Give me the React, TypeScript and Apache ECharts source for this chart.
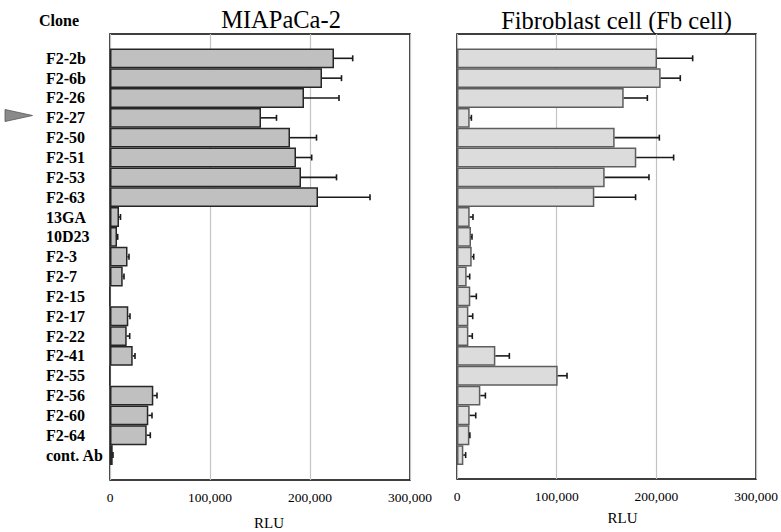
import React, { useEffect, useRef } from "react";
import * as echarts from "echarts";

const categories = [
  "F2-2b", "F2-6b", "F2-26", "F2-27", "F2-50", "F2-51", "F2-53", "F2-63",
  "13GA", "10D23", "F2-3", "F2-7", "F2-15", "F2-17", "F2-22", "F2-41",
  "F2-55", "F2-56", "F2-60", "F2-64", "cont. Ab",
];

const miaValues = [
  224000, 212000, 194000, 151000, 180000, 186000, 191000, 208000,
  9000, 7000, 17500, 12700, 0, 18300, 16700, 22700,
  0, 43300, 38300, 36700, 2700,
];
const miaErrors = [
  18700, 19500, 35000, 15500, 26500, 15700, 35500, 52000,
  1500, 700, 1500, 1300, 0, 1700, 3000, 2300,
  0, 3700, 3700, 3600, 300,
];

const fbValues = [
  198700, 202300, 165600, 12600, 156600, 178100, 146700, 136400,
  12600, 13900, 14600, 9600, 13200, 11300, 11300, 38100,
  100000, 23200, 12600, 12300, 6300,
];
const fbErrors = [
  35400, 19500, 23500, 1700, 44400, 37100, 44000, 41000,
  3300, 1000, 2000, 3000, 6000, 4300, 3900, 13900,
  9300, 5000, 6000, 500, 2300,
];

const xTicks = [0, 100000, 200000, 300000];

const SERIF = '"Liberation Serif", "Times New Roman", serif';

function errorRenderer(params: any, api: any) {
  const cat = api.value(0);
  const v = api.value(1);
  const e = api.value(2);
  if (!e) return null;
  const s = api.coord([v, cat]);
  const t = api.coord([v + e, cat]);
  const h = 3;
  const style = { stroke: "#1a1a1a", lineWidth: 1.6 };
  return {
    type: "group",
    children: [
      { type: "line", shape: { x1: s[0], y1: s[1], x2: t[0], y2: t[1] }, style },
      { type: "line", shape: { x1: t[0], y1: t[1] - h, x2: t[0], y2: t[1] + h }, style },
    ],
  };
}

export default function App() {
  const ref = useRef<HTMLDivElement>(null);

  useEffect(() => {
    if (!ref.current) return;
    const chart = echarts.init(ref.current, undefined, { renderer: "svg" });

    const frameX = (gridIndex: number) => ({
      type: "value",
      gridIndex,
      min: xTicks[0],
      max: xTicks[xTicks.length - 1],
      interval: 100000,
      axisLine: { show: false },
      axisTick: { show: false },
      splitLine: { show: true, lineStyle: { color: "#c4c4c4", width: 1.2 } },
      axisLabel: {
        color: "#000",
        fontFamily: SERIF,
        fontSize: 13.5,
        margin: 10,
        formatter: (v: number) => v.toLocaleString("en-US"),
      },
    });
    const hiddenX = (gridIndex: number) => ({
      type: "value",
      gridIndex,
      min: xTicks[0],
      max: xTicks[xTicks.length - 1],
      show: false,
    });

    const option: any = {
      animation: false,
      grid: [
        { left: 110, top: 34, width: 300, height: 446, show: true, borderColor: "#000", borderWidth: 1.5 },
        { left: 110, top: 48.4, width: 300, height: 416.6 },
        { left: 457, top: 34, width: 302, height: 445, show: true, borderColor: "#000", borderWidth: 1.5 },
        { left: 457, top: 48.4, width: 302, height: 416.6 },
      ],
      xAxis: [frameX(0), hiddenX(1), frameX(2), hiddenX(3)],
      yAxis: [
        { type: "value", gridIndex: 0, show: false },
        {
          type: "category",
          gridIndex: 1,
          data: categories,
          inverse: true,
          axisLine: { show: false },
          axisTick: { show: false },
          splitLine: { show: false },
          axisLabel: {
            align: "left",
            margin: 64,
            color: "#000",
            fontFamily: SERIF,
            fontWeight: "bold",
            fontSize: 16,
            interval: 0,
          },
        },
        { type: "value", gridIndex: 2, show: false },
        {
          type: "category",
          gridIndex: 3,
          data: categories,
          inverse: true,
          show: false,
        },
      ],
      series: [
        {
          type: "bar",
          xAxisIndex: 1,
          yAxisIndex: 1,
          data: miaValues,
          barCategoryGap: "0%",
          itemStyle: { color: "#c0c0c0", borderColor: "#262626", borderWidth: 1.5 },
          z: 3,
        },
        {
          type: "custom",
          xAxisIndex: 1,
          yAxisIndex: 1,
          renderItem: errorRenderer,
          encode: { x: [1, 2], y: 0 },
          data: categories.map((_, i) => [i, miaValues[i], miaErrors[i]]),
          z: 4,
        },
        {
          type: "bar",
          xAxisIndex: 3,
          yAxisIndex: 3,
          data: fbValues,
          barCategoryGap: "0%",
          itemStyle: { color: "#dcdcdc", borderColor: "#5e5e5e", borderWidth: 1.5 },
          z: 3,
        },
        {
          type: "custom",
          xAxisIndex: 3,
          yAxisIndex: 3,
          renderItem: errorRenderer,
          encode: { x: [1, 2], y: 0 },
          data: categories.map((_, i) => [i, fbValues[i], fbErrors[i]]),
          z: 4,
        },
      ],
      graphic: [
        {
          type: "text",
          x: 39,
          y: 20.5,
          style: { text: "Clone", fontFamily: SERIF, fontWeight: "bold", fontSize: 16, fill: "#000", align: "left", verticalAlign: "middle" },
        },
        {
          type: "text",
          x: 281,
          y: 19,
          style: { text: "MIAPaCa-2", fontFamily: SERIF, fontSize: 24.5, fill: "#000", align: "center", verticalAlign: "middle" },
        },
        {
          type: "text",
          x: 616.5,
          y: 20,
          style: { text: "Fibroblast cell (Fb cell)", fontFamily: SERIF, fontSize: 24.5, fill: "#000", align: "center", verticalAlign: "middle" },
        },
        {
          type: "text",
          x: 269,
          y: 522.5,
          style: { text: "RLU", fontFamily: SERIF, fontSize: 15, fill: "#000", align: "center", verticalAlign: "middle" },
        },
        {
          type: "text",
          x: 622.5,
          y: 518,
          style: { text: "RLU", fontFamily: SERIF, fontSize: 15, fill: "#000", align: "center", verticalAlign: "middle" },
        },
        {
          type: "polygon",
          shape: { points: [[5, 109.5], [5, 121.5], [32.5, 115.5]] },
          style: { fill: "#8a8a8a", stroke: "#555", lineWidth: 0.8 },
        },
      ],
    };

    chart.setOption(option);
    return () => chart.dispose();
  }, []);

  return (
    <div
      ref={ref}
      style={{ position: "absolute", left: 0, top: 0, width: 781, height: 532, background: "#fff" }}
    />
  );
}
